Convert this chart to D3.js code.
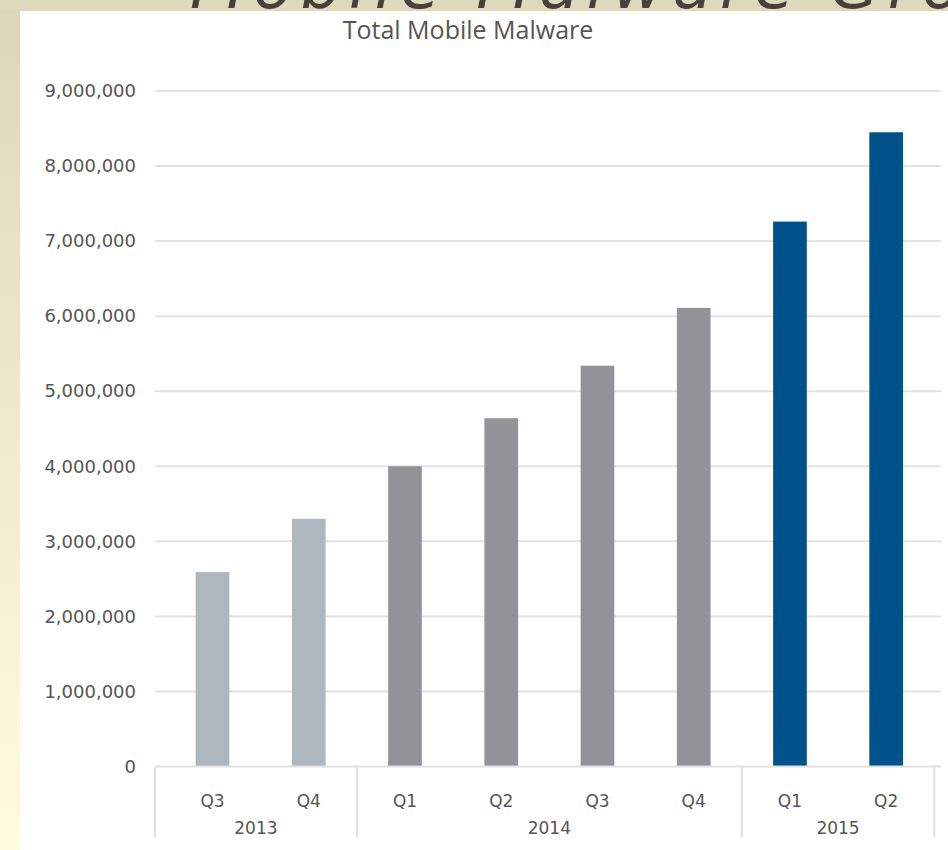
<!DOCTYPE html>
<html>
<head>
<meta charset="utf-8">
<script src="https://cdn.jsdelivr.net/npm/d3@7"></script>
<style>
  html, body { margin: 0; padding: 0; background: #fff; }
  svg { display: block; }
</style>
</head>
<body>
<svg id="chart" width="948" height="850"></svg>
<script>
// Quarterly totals of mobile malware samples
const quarters = ["Q3", "Q4", "Q1", "Q2", "Q3", "Q4", "Q1", "Q2"];
const quarterYears = ["2013", "2013", "2014", "2014", "2014", "2014", "2015", "2015"];
const malwareTotals = [2590000, 3300000, 4000000, 4640000, 5340000, 6110000, 7260000, 8450000];
const years = ["2013", "2014", "2015"];
const yTickValues = [0, 1000000, 2000000, 3000000, 4000000, 5000000, 6000000, 7000000, 8000000, 9000000];
const chartTitle = "Total Mobile Malware";
const slideHeading = "Mobile Malware Growth";

const yearColor = d3.scaleOrdinal()
  .domain(years)
  .range(["#aeb6be", "#929396", "#01518a"]);

const W = 948, H = 850;
const svg = d3.select("#chart");

// slide backdrop: beige frame with a gradient on the left edge
const defs = svg.append("defs");
const grad = defs.append("linearGradient")
  .attr("id", "frameGrad").attr("x1", 0).attr("y1", 0).attr("x2", 0).attr("y2", 1);
grad.append("stop").attr("offset", "0%").attr("stop-color", "#ddd5b8");
grad.append("stop").attr("offset", "45%").attr("stop-color", "#efe8c8");
grad.append("stop").attr("offset", "100%").attr("stop-color", "#fffcdc");
svg.append("rect").attr("width", W).attr("height", H).attr("fill", "url(#frameGrad)");
svg.append("rect").attr("width", W).attr("height", 11).attr("fill", "#dfd8bd");

// slide heading sits above the panel; only the bottoms of its letters show
defs.append("clipPath").attr("id", "headClip")
  .append("rect").attr("x", 0).attr("y", 0).attr("width", W).attr("height", 11);
svg.append("g").attr("clip-path", "url(#headClip)")
  .append("text")
  .attr("x", 190).attr("y", 8)
  .attr("font-family", "DejaVu Sans, sans-serif")
  .attr("font-size", 64).attr("font-style", "italic")
  .attr("fill", "#4a3f3c")
  .attr("letter-spacing", 8)
  .text(slideHeading);

// white chart panel
svg.append("rect").attr("x", 20).attr("y", 11).attr("width", W - 20).attr("height", H - 11).attr("fill", "#ffffff");

const x = d3.scaleBand()
  .domain(d3.range(quarters.length))
  .range([164.4, 934.3])
  .paddingInner(0.65)
  .paddingOuter(0.325);

const y = d3.scaleLinear()
  .domain([0, 9000000])
  .range([766.5, 91]);

const gridLeft = 155, gridRight = 941;
const fmt = d3.format(",");
const labelFont = "DejaVu Sans, Verdana, sans-serif";

// horizontal gridlines
svg.append("g").selectAll("line")
  .data(yTickValues.filter(v => v > 0))
  .join("line")
  .attr("x1", gridLeft).attr("x2", gridRight)
  .attr("y1", d => y(d)).attr("y2", d => y(d))
  .attr("stroke", "#e3e3e3").attr("stroke-width", 2);

// y axis labels
const yAxis = d3.axisLeft(y).tickValues(yTickValues).tickFormat(fmt).tickSize(0).tickPadding(0);
const yg = svg.append("g").attr("transform", "translate(136,0)").call(yAxis);
yg.select(".domain").remove();
yg.selectAll("text")
  .attr("font-family", labelFont).attr("font-size", 18)
  .attr("fill", "#555555");

// bars
svg.append("g").selectAll("rect")
  .data(malwareTotals)
  .join("rect")
  .attr("x", (d, i) => x(i))
  .attr("width", x.bandwidth())
  .attr("y", d => y(d))
  .attr("height", d => y(0) - y(d))
  .attr("fill", (d, i) => yearColor(quarterYears[i]));

// baseline
svg.append("line")
  .attr("x1", gridLeft).attr("x2", gridRight)
  .attr("y1", y(0)).attr("y2", y(0))
  .attr("stroke", "#e0e0e0").attr("stroke-width", 2);

// quarter labels
const xAxis = d3.axisBottom(x).tickFormat(i => quarters[i]).tickSize(0).tickPadding(0);
const xg = svg.append("g").attr("transform", `translate(0,${y(0) + 28})`).call(xAxis);
xg.select(".domain").remove();
xg.selectAll("text")
  .attr("font-family", labelFont).attr("font-size", 17)
  .attr("fill", "#555555");

// year groups with separators
const step = x.step();
const groups = years.map(yr => {
  const idx = quarterYears.map((q, i) => q === yr ? i : -1).filter(i => i >= 0);
  const first = idx[0], last = idx[idx.length - 1];
  return {
    year: yr,
    x0: x(first) + x.bandwidth() / 2 - step / 2,
    x1: x(last) + x.bandwidth() / 2 + step / 2
  };
});
groups[0].x0 = gridLeft;

const sepX = [groups[0].x0].concat(groups.map(g => g.x1));
svg.append("g").selectAll("line")
  .data(sepX)
  .join("line")
  .attr("x1", d => d).attr("x2", d => d)
  .attr("y1", y(0)).attr("y2", y(0) + 71)
  .attr("stroke", "#e0e0e0").attr("stroke-width", 2);

svg.append("g").selectAll("text")
  .data(groups)
  .join("text")
  .attr("x", d => (d.x0 + d.x1) / 2)
  .attr("y", y(0) + 67)
  .attr("text-anchor", "middle")
  .attr("font-family", labelFont).attr("font-size", 17)
  .attr("fill", "#555555")
  .text(d => d.year);

// title
svg.append("text")
  .attr("x", 468).attr("y", 39)
  .attr("text-anchor", "middle")
  .attr("font-family", "Open Sans, sans-serif")
  .attr("font-size", 25)
  .attr("fill", "#555555")
  .text(chartTitle);
</script>
</body>
</html>
